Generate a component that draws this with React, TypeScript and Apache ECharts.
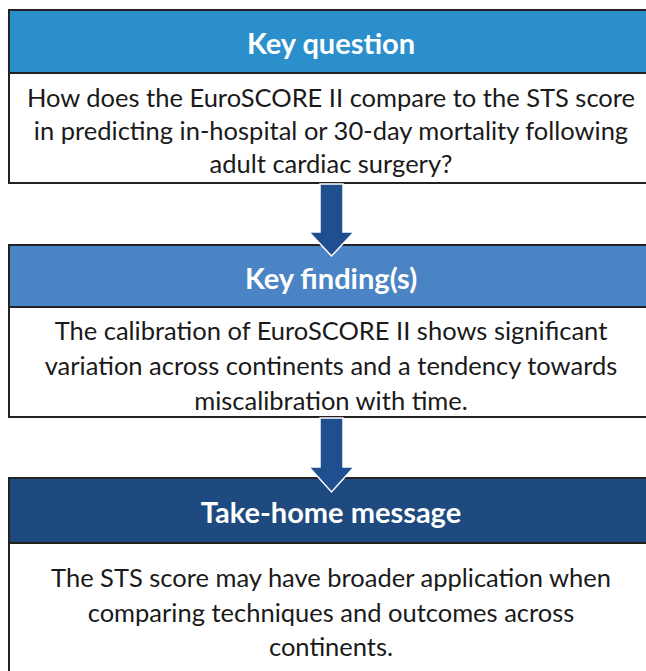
import React, { useEffect, useRef } from "react";
import * as echarts from "echarts";

const titles = ["Key question", "Key finding(s)", "Take-home message"];
const bodyLines1 = [
  "How does the EuroSCORE II compare to the STS score",
  "in predicting in-hospital or 30-day mortality following",
  "adult cardiac surgery?",
];
const bodyLines2 = [
  "The calibration of EuroSCORE II shows significant",
  "variation across continents and a tendency towards",
  "miscalibration with time.",
];
const bodyLines3 = [
  "The STS score may have broader application when",
  "comparing techniques and outcomes across",
  "continents.",
];
const bodies = [bodyLines1, bodyLines2, bodyLines3];

// layout
const LEFT = 9;
const RIGHT = 654;
const CX = 331;
const layout = [
  { top: 10, hb: 73, bottom: 183, color: "#2a8fcb", titleY: 42, lineY: [97, 130, 163] },
  { top: 245, hb: 307, bottom: 417, color: "#4a84c4", titleY: 277, lineY: [330, 365, 400] },
  { top: 478, hb: 543, bottom: 700, color: "#1e4a7f", titleY: 511, lineY: [577, 612, 646] },
];
const arrows = [
  { y0: 184, yh: 232, yt: 256 },
  { y0: 418, yh: 467, yt: 492 },
];
const FONT = "Lato";

export default function App() {
  const ref = useRef<HTMLDivElement>(null);
  useEffect(() => {
    const chart = echarts.init(ref.current!, null, { renderer: "svg" });
    const elements: any[] = [];
    layout.forEach((b, i) => {
      elements.push({
        type: "rect",
        shape: { x: LEFT, y: b.top, width: RIGHT - LEFT, height: b.bottom - b.top },
        style: { fill: "#ffffff", stroke: "#222", lineWidth: 2 },
        z: 1,
      });
      elements.push({
        type: "rect",
        shape: { x: LEFT, y: b.top, width: RIGHT - LEFT, height: b.hb - b.top },
        style: { fill: b.color, stroke: "#222", lineWidth: 2 },
        z: 2,
      });
      elements.push({
        type: "text",
        x: CX,
        y: b.titleY,
        style: {
          text: titles[i],
          fill: "#ffffff",
          font: `bold 29px ${FONT}`,
          textAlign: "center",
          textVerticalAlign: "middle",
        },
        z: 5,
      });
      bodies[i].forEach((t, j) => {
        elements.push({
          type: "text",
          x: CX,
          y: b.lineY[j],
          style: {
            text: t,
            fill: "#1a1a1a",
            font: `25.5px ${FONT}`,
            textAlign: "center",
            textVerticalAlign: "middle",
          },
          z: 5,
        });
      });
    });
    arrows.forEach((a) => {
      elements.push({
        type: "polygon",
        shape: {
          points: [
            [320, a.y0],
            [343, a.y0],
            [343, a.yh],
            [354, a.yh],
            [331.5, a.yt],
            [309, a.yh],
            [320, a.yh],
          ],
        },
        style: { fill: "#1f4f8f", stroke: "#ffffff", lineWidth: 1.5 },
        z: 10,
      });
    });
    chart.setOption({ animation: false, graphic: { elements } });
    return () => chart.dispose();
  }, []);
  return (
    <div
      ref={ref}
      style={{ position: "fixed", left: 0, top: 0, width: 646, height: 671, background: "#fff" }}
    />
  );
}
